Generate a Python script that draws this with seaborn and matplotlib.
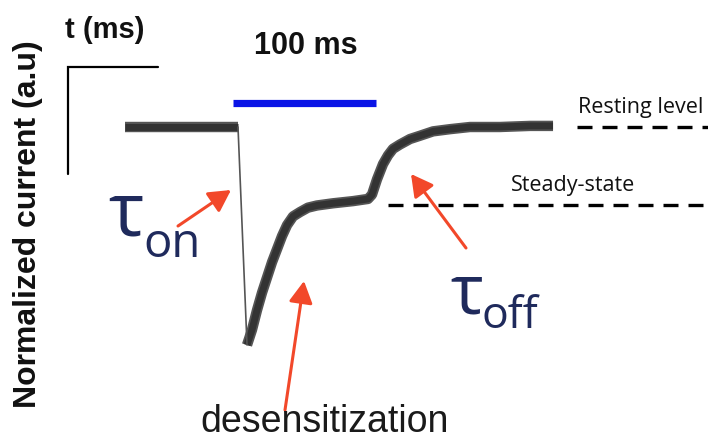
import numpy as np
import pandas as pd
import matplotlib
matplotlib.use("Agg")
import matplotlib.pyplot as plt
import seaborn as sns

# ---------------- data (time in ms, current normalized to peak) ----------------
# Baseline before agonist application
base_t = [-75.5, 3.5]
base_c = [0.0, 0.0]
# Fast activation (thin line)
act_t = [3.5, 9.8]
act_c = [0.0, -1.0]
# Desensitization phase + steady-state + deactivation (noisy, thick trace)
des_t = [9.8, 13.3, 16.8, 20.3, 23.8, 27.3, 30.8, 34.3, 37.8, 42.0, 46.9, 52.4,
         58.7, 69.9, 83.9, 94.4, 97.2, 100.7, 104.9, 108.4, 111.9, 116.8, 123.8,
         130.8, 139.9, 151.7, 165.7, 186.7, 207.7, 223.8]
des_c = [-1.0, -0.93, -0.84, -0.76, -0.69, -0.62, -0.56, -0.50, -0.45, -0.41,
         -0.39, -0.37, -0.36, -0.35, -0.34, -0.33, -0.31, -0.24, -0.17, -0.13,
         -0.10, -0.08, -0.055, -0.04, -0.02, -0.01, 0.0, 0.0, 0.005, 0.005]
# Agonist pulse (blue bar)
pulse_t = [0.0, 100.0]
pulse_c = [0.11, 0.11]
resting_level = 0.0
steady_state = -0.358

labels = {
    "time": "t (ms)",
    "pulse": "100 ms",
    "ylabel": "Normalized current (a.u)",
    "rest": "Resting level",
    "steady": "Steady-state",
    "des": "desensitization",
}

# ---------------- figure ----------------
sns.set_theme(style="white")
plt.rcParams['font.family'] = ['Liberation Sans', 'DejaVu Sans']

W, H = 708, 441
fig = plt.figure(figsize=(W / 100, H / 100), dpi=100)
ax = fig.add_axes([0, 0, 1, 1])
ax.set_axis_off()

# axis scales: 100 ms = 143 px, peak amplitude = 218 px
px_per_ms = 1.43
px_per_unit = 218.0
x0_px, y0_px = 233.0, 127.0
ax.set_xlim(-x0_px / px_per_ms, (W - x0_px) / px_per_ms)
ax.set_ylim(-(H - y0_px) / px_per_unit, y0_px / px_per_unit)


def P(x, y):
    """pixel position -> figure fraction (layout helper for annotations)"""
    return (x / W, 1 - y / H)


trace_col = "#333333"
for lw, col in [(7.5, "#555555"), (5.0, trace_col)]:
    sns.lineplot(x=base_t, y=base_c, ax=ax, color=col, lw=lw, sort=False,
                 solid_capstyle="butt")
    sns.lineplot(x=des_t, y=des_c, ax=ax, color=col, lw=lw, sort=False,
                 solid_capstyle="butt", solid_joinstyle="round")
sns.lineplot(x=act_t, y=act_c, ax=ax, color="#555555", lw=1.2, sort=False)

# pulse bar
sns.lineplot(x=pulse_t, y=pulse_c, ax=ax, color="#0a14e6", lw=5.2, sort=False,
             solid_capstyle="butt")

# dashed reference lines
ax.plot([240.4, 332.2], [resting_level, resting_level], color="black", lw=2.4,
        dashes=(4.5, 3))
ax.plot([108.4, 332.2], [steady_state, steady_state], color="black", lw=2.4,
        dashes=(4.5, 3))

# scale bar (L shape)
ax.plot([-115.4, -115.4, -52.4], [-0.216, 0.275, 0.275], color="black", lw=1.6,
        solid_joinstyle="miter")

# texts
fig.text(*P(65, 30), labels["time"], fontsize=21, fontweight="bold",
         ha="left", va="center", color="#111111")
fig.text(*P(306, 46), labels["pulse"], fontsize=22, fontweight="bold",
         ha="center", va="center", color="#111111")
fig.text(*P(28, 224), labels["ylabel"], fontsize=23, fontweight="bold",
         rotation=90, ha="center", va="center", color="#111111")
fig.text(*P(578, 108), labels["rest"], fontsize=15.5, family=["Open Sans", "DejaVu Sans"],
         ha="left", va="center", color="#111111")
fig.text(*P(511, 185), labels["steady"], fontsize=15.5, family=["Open Sans", "DejaVu Sans"],
         ha="left", va="center", color="#111111")
fig.text(*P(325, 432), labels["des"], fontsize=27, ha="center", va="baseline",
         color="#1a1a1a")

navy = "#1f2a5c"
tfam = ["Open Sans", "DejaVu Sans"]
fig.text(*P(108, 236), "τ", fontsize=54, family=tfam, ha="left", va="baseline",
         color=navy)
fig.text(*P(143, 257), "on", fontsize=34, family=tfam, ha="left", va="baseline",
         color=navy)
fig.text(*P(450, 314), "τ", fontsize=50, family=tfam, ha="left", va="baseline",
         color=navy)
fig.text(*P(481, 328), "off", fontsize=32, family=tfam, ha="left", va="baseline",
         color=navy)

# red arrows
red = "#f2482a"
arrow = dict(arrowstyle="-|>,head_length=1.1,head_width=0.6", color=red, lw=2.2,
             shrinkA=0, shrinkB=0)
for tail, head in [((178, 226), (231, 190)),
                   ((285, 410), (304, 281)),
                   ((466, 248), (411, 174))]:
    ax.annotate("", xy=P(*head), xycoords="figure fraction",
                xytext=P(*tail), textcoords="figure fraction", arrowprops=arrow)

fig.savefig("out.png", dpi=100, facecolor="white")
